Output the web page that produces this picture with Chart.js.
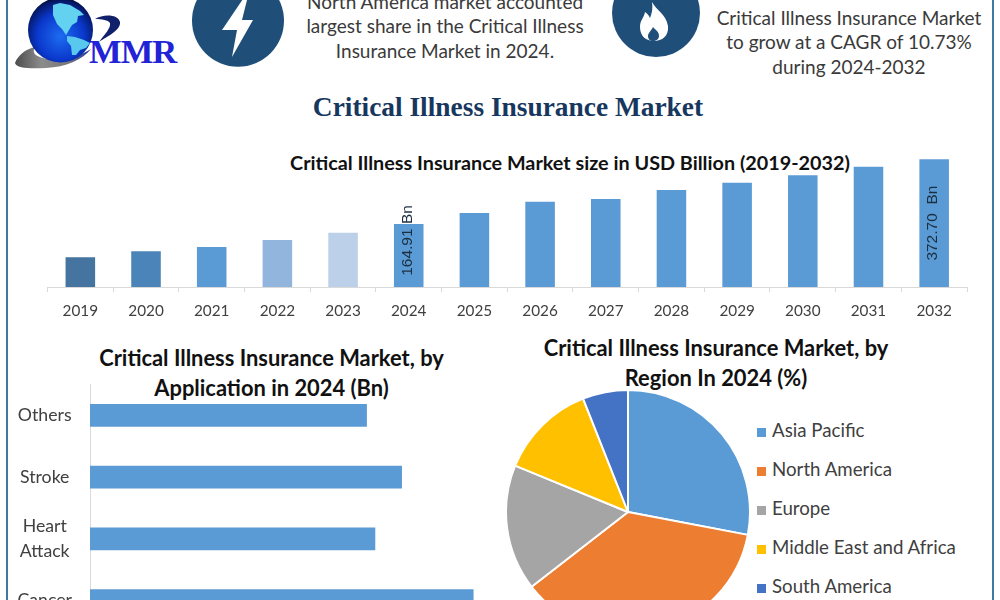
<!DOCTYPE html>
<html>
<head>
<meta charset="utf-8">
<title>Critical Illness Insurance Market</title>
<script src="https://cdn.jsdelivr.net/npm/chart.js@4"></script>
<style>
  html, body { margin: 0; padding: 0; background: #fff; }
  body { width: 1000px; height: 600px; overflow: hidden; position: relative; font-family: Lato, sans-serif; color: #333; }
  canvas { position: absolute; }
  svg { position: absolute; left: 0; top: 0; }
  .frame { position: absolute; top: 0; width: 2px; height: 600px; background: #3f7aa5; }
  .note, .heading, .subhead, .mmr { position: absolute; text-align: center; white-space: nowrap; }
  .note { font-size: 19px; line-height: 24.4px; color: #3a3a3a; }
  .heading { left: 208px; width: 600px; top: 90px; font: bold 27.4px/34px "Liberation Serif", serif; color: #17375e; }
  .subhead { font-size: 19.8px; font-weight: 700; line-height: 30px; color: #111; }
  .subhead.wide { font-size: 21.9px; }
  .mmr { left: 89px; top: 34px; font: bold 34.6px/34px "Liberation Serif", serif; color: #2222d6; letter-spacing: -1px; }
  #regionLegend { position: absolute; left: 757px; top: 410.6px; }
  #regionLegend div { height: 39.2px; line-height: 39.2px; font-size: 18.7px; color: #404040; white-space: nowrap; }
  #regionLegend span { display: inline-block; width: 9px; height: 9px; margin-right: 6px; }
</style>
</head>
<body>
<div class="frame" style="left:6px"></div>
<div class="frame" style="left:992px"></div>

<!-- logo globe and the two round icons -->
<svg width="1000" height="100" viewBox="0 0 1000 100">
  <defs>
    <radialGradient id="globe" cx="0.5" cy="0.6" r="0.6">
      <stop offset="0" stop-color="#1d6cf0"/>
      <stop offset="0.6" stop-color="#0a38cc"/>
      <stop offset="0.9" stop-color="#051a6e"/>
      <stop offset="1" stop-color="#030c33"/>
    </radialGradient>
    <linearGradient id="swoosh" x1="0" x2="1" y1="0" y2="0">
      <stop offset="0" stop-color="#4d4d4d"/>
      <stop offset="0.35" stop-color="#8c8c8c"/>
      <stop offset="0.7" stop-color="#777"/>
      <stop offset="1" stop-color="#1d2fa0"/>
    </linearGradient>
  </defs>
  <path d="M15 63 C18 55 26 49 35 47 C31 53 36 58 50 59 C66 60 80 56 91 49 C82 60 66 67 46 68 C30 69 16 68 15 63 Z" fill="url(#swoosh)"/>
  <circle cx="60.5" cy="30" r="32.5" fill="url(#globe)"/>
  <path d="M53 5 L60 3 L70 5 L80 11 L84 15 L78 16 L77 22 L72 25 L69 30 L66 35 L62 29 L57 24 L53 15 Z" fill="#62d2f0"/>
  <path d="M67 36 L75 37 L84 40 L90 43 L86 48 L80 50 L76 55 L72 55 L71 46 L67 41 Z" fill="#58c8ee"/>
  <path d="M95 19 C103 14 118 14 120 22 C121 30 108 36 99 42 C105 34 111 28 110 23 C108 20 102 19 95 19 Z" fill="#10206a"/>

  <circle cx="238" cy="20.7" r="46" fill="#1f4e79"/>
  <path d="M245 -4 L222 30 L237 30 L232 57 L253 20 L242 20 L248 -4 Z" fill="#fff"/>

  <ellipse cx="656" cy="13" rx="44" ry="44" fill="#1f4e79"/>
  <path d="M652 2 C656 10 666 14 668 26 C669 36 662 41 654 41 C646 41 640 36 640 27 C640 20 644 18 645 12 C648 14 649 16 650 18 C652 13 653 8 652 2 Z" fill="#fff"/>
  <path d="M653 27 C655 30 659 31 659 36 C659 39 656 41 653 41 C650 41 648 39 648 36 C648 33 651 31 653 27 Z" fill="#1f4e79"/>
</svg>
<div class="mmr">MMR</div>

<div class="note" style="left:295px;width:300px;top:-10px">North America market accounted<br>largest share in the Critical Illness<br>Insurance Market in 2024.</div>
<div class="note" style="left:699px;width:300px;top:6px">Critical Illness Insurance Market<br>to grow at a CAGR of 10.73%<br>during 2024-2032</div>
<div class="heading">Critical Illness Insurance Market</div>
<div class="subhead" style="left:220px;width:700px;top:147px">Critical Illness Insurance Market size in USD Billion (2019-2032)</div>
<div class="subhead wide" style="left:71.5px;width:400px;top:343px">Critical Illness Insurance Market, by<br>Application in 2024 (Bn)</div>
<div class="subhead wide" style="left:516px;width:400px;top:333px">Critical Illness Insurance Market, by<br>Region In 2024 (%)</div>

<canvas id="sizeChart" width="1000" height="175" style="left:0;top:150px"></canvas>
<canvas id="appChart" width="500" height="308" style="left:0;top:354px"></canvas>
<canvas id="regionChart" width="246" height="246" style="left:504.5px;top:388.5px"></canvas>
<div id="regionLegend"></div>

<script>
  // market size per year, USD billion
  const years = ['2019','2020','2021','2022','2023','2024','2025','2026','2027','2028','2029','2030','2031','2032'];
  const marketSize = [57.9, 77.2, 91, 113.5, 136.9, 164.91, 200, 236.4, 245, 274, 297.4, 321, 348.8, 372.7];
  const barColors = ['#44749f','#4a84b8','#5b9bd5','#92b5de','#bcd0e9','#5b9bd5','#5b9bd5','#5b9bd5','#5b9bd5','#5b9bd5','#5b9bd5','#5b9bd5','#5b9bd5','#5b9bd5'];

  // 2024 split by application, USD billion
  const applications = ['Others', 'Stroke', ['Heart', 'Attack'], 'Cancer'];
  const applicationValues = [36.3, 40.9, 37.4, 50.3];

  // 2024 split by region, percent
  const regions = ['Asia Pacific', 'North America', 'Europe', 'Middle East and Africa', 'South America'];
  const regionShares = [28, 36.5, 16.7, 12.8, 6];
  const regionColors = ['#5b9bd5', '#ed7d31', '#a5a5a5', '#ffc000', '#4472c4'];

  const sizeAxisMin = -37.4;
  const sizeAxisMax = 402.4;
  const axisGrey = '#d9d9d9';
  const textGrey = '#404040';

  // only these two bars carry a rotated value label: index -> shift from bar middle
  const labelledBars = { 5: -15, 13: 0 };
  const labelText = { 5: ' Bn', 13: '  Bn' };

  const rotatedLabels = {
    id: 'rotatedLabels',
    afterDatasetsDraw(chart) {
      const ctx = chart.ctx;
      const bars = chart.getDatasetMeta(0).data;
      Object.keys(labelledBars).forEach(function(i) {
        const bar = bars[i];
        ctx.save();
        ctx.translate(bar.x - 1, (bar.y + bar.base) / 2 + labelledBars[i]);
        ctx.rotate(-Math.PI / 2);
        ctx.font = '15.5px "Liberation Sans", sans-serif';
        ctx.fillStyle = '#1c2f40';
        ctx.textAlign = 'center';
        ctx.textBaseline = 'middle';
        ctx.fillText(marketSize[i].toFixed(2) + labelText[i], 0, 0);
        ctx.restore();
      });
    }
  };

  new Chart(document.getElementById('sizeChart'), {
    type: 'bar',
    data: {
      labels: years,
      datasets: [{ data: marketSize, base: sizeAxisMin, backgroundColor: barColors, categoryPercentage: 1, barPercentage: 0.45 }]
    },
    options: {
      responsive: false,
      animation: false,
      layout: { padding: { left: 47.5, right: 33, top: 0, bottom: 0 } },
      plugins: { legend: { display: false }, tooltip: { enabled: false } },
      scales: {
        y: { display: false, min: sizeAxisMin, max: sizeAxisMax },
        x: {
          afterFit: function(scale) { scale.height = 38; },
          border: { color: axisGrey },
          grid: { offset: true, drawOnChartArea: false, tickLength: 5, color: axisGrey },
          ticks: { color: textGrey, padding: 10, maxRotation: 0, font: { family: 'Lato', size: 15.3 } }
        }
      }
    },
    plugins: [rotatedLabels]
  });

  new Chart(document.getElementById('appChart'), {
    type: 'bar',
    data: {
      labels: applications,
      datasets: [{ data: applicationValues, backgroundColor: '#5b9bd5', barThickness: 22 }]
    },
    options: {
      indexAxis: 'y',
      responsive: false,
      animation: false,
      layout: { padding: { right: 10 } },
      plugins: { legend: { display: false }, tooltip: { enabled: false } },
      scales: {
        x: { display: false, min: 0, max: 52.5 },
        y: {
          afterFit: function(scale) { scale.width = 90; },
          border: { color: axisGrey },
          grid: { drawOnChartArea: false, drawTicks: false },
          ticks: { crossAlign: 'center', padding: 18, color: textGrey, font: { family: 'Lato', size: 17.7, lineHeight: '25px' } }
        }
      }
    }
  });

  new Chart(document.getElementById('regionChart'), {
    type: 'pie',
    data: {
      labels: regions,
      datasets: [{ data: regionShares, backgroundColor: regionColors, borderColor: '#fff', borderWidth: 2 }]
    },
    options: {
      responsive: false,
      animation: false,
      plugins: { legend: { display: false }, tooltip: { enabled: false } }
    }
  });

  // legend rows built from the same region arrays as the pie
  const legendBox = document.getElementById('regionLegend');
  regions.forEach(function(name, i) {
    const row = document.createElement('div');
    const swatch = document.createElement('span');
    swatch.style.background = regionColors[i];
    row.appendChild(swatch);
    row.appendChild(document.createTextNode(name));
    legendBox.appendChild(row);
  });
</script>
</body>
</html>
